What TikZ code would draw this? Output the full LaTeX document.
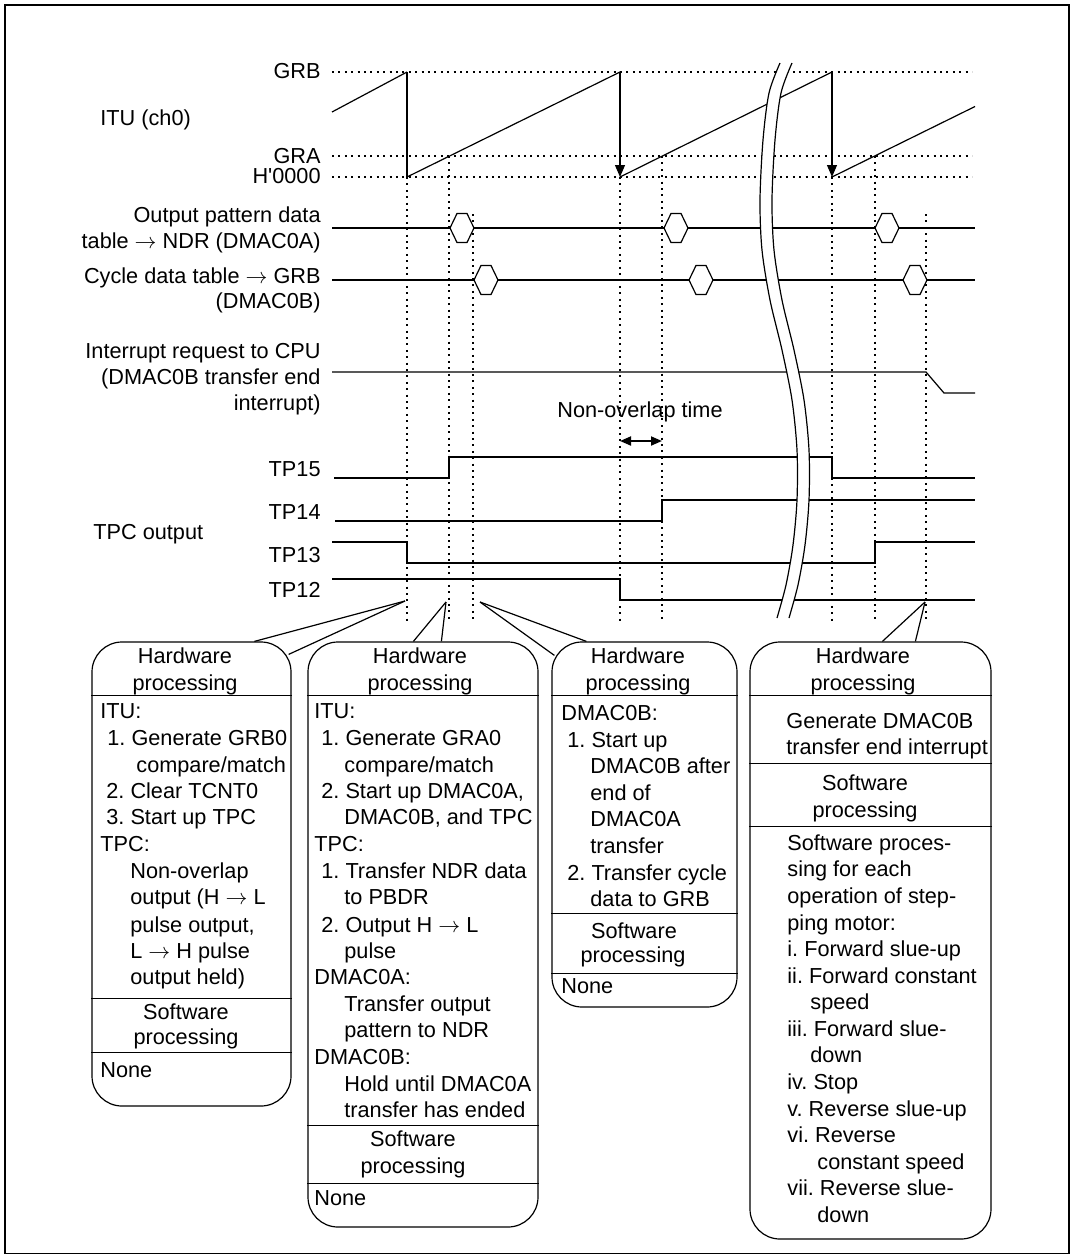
\documentclass[tikz,border=0pt]{standalone}
\usepackage{fontspec}
\setmainfont{Liberation Sans}
\usetikzlibrary{arrows.meta,calc}
\begin{document}
\begin{tikzpicture}[x=0.5pt,y=-0.5pt,
  txt/.style={inner sep=0pt, font=\fontsize{10.85}{13.35}\selectfont\frenchspacing},
  lbl/.style={txt, anchor=base east},
  lt/.style={txt, anchor=base west},
  ct/.style={txt, anchor=base},
  sig/.style={line width=0.6pt},
  dotl/.style={line width=0.55pt, dash pattern=on 1pt off 2.2pt},
  pbox/.style={draw, line width=0.6pt, rounded corners=15pt, inner sep=0pt},
  tipa/.style={-{Triangle[width=5pt,length=6pt]}},
  hexa/.style={sig, fill=white}
]
\useasboundingbox (0,0) rectangle (1074,1254);
\draw[line width=1pt] (5,5) rectangle (1069,1254);

% ---------- dotted guides ----------
\draw[dotl] (332,72) -- (972,72);
\draw[dotl] (332,156) -- (972,156);
\draw[dotl] (332,177) -- (972,177);
\foreach \x in {407,620,832} \draw[dotl] (\x,177) -- (\x,623);
\foreach \x in {449,662,875} \draw[dotl] (\x,156) -- (\x,623);
\foreach \x in {473,926} \draw[dotl] (\x,214) -- (\x,623);

% ---------- ITU sawtooth ----------
\draw[sig] (332,112) -- (407,72);
\draw[line width=1.1pt] (407,72) -- (407,177);
\draw[sig] (407,177) -- (620,72);
\draw[sig,tipa] (620,72) -- (620,177);
\draw[sig] (620,177) -- (832,72);
\draw[sig,tipa] (832,72) -- (832,177);
\draw[sig] (832,177) -- (975,106.5);

% ---------- DMAC rows ----------
\draw[sig] (332,228) -- (975,228);
\foreach \x in {450,664,875}
  \draw[hexa] (\x,228) -- ++(7,-14.5) -- ++(10,0) -- ++(7,14.5) -- ++(-7,14.5) -- ++(-10,0) -- cycle;
\draw[sig] (332,280) -- (975,280);
\foreach \x in {474,689,903}
  \draw[hexa] (\x,280) -- ++(7,-14.5) -- ++(10,0) -- ++(7,14.5) -- ++(-7,14.5) -- ++(-10,0) -- cycle;

% ---------- interrupt ----------
\draw[sig] (332,372) -- (926,372) -- (944,393) -- (975,393);

% ---------- TPC outputs ----------
\draw[sig] (334,478) -- (449,478) -- (449,457) -- (832,457) -- (832,478) -- (975,478);
\draw[sig] (335,521) -- (662,521) -- (662,500) -- (975,500);
\draw[sig] (332,542) -- (407,542) -- (407,563) -- (875,563) -- (875,542) -- (975,542);
\draw[sig] (332,579) -- (620,579) -- (620,600) -- (975,600);

% non-overlap dimension
\coordinate (no1) at (620,441);
\coordinate (no2) at (662,441);
\draw[line width=0.9pt,{Triangle[width=4.5pt,length=5.5pt]}-{Triangle[width=4.5pt,length=5.5pt]}] (no1) -- (no2);
\node[ct] (lnon) at (640,417) {Non-overlap time};

% ---------- break ----------
\fill[white] plot[smooth] coordinates {(780,63) (769,93) (763,140) (760,200) (762,250) (770,300) (782,350) (792,400) (797,450) (797,500) (793,545) (786,585) (777,618)}
  -- plot[smooth] coordinates {(789,618) (798,585) (805,545) (809,500) (809,450) (804,400) (794,350) (782,300) (774,250) (772,200) (775,140) (781,93) (792,63)} -- cycle;
\draw[sig] plot[smooth] coordinates {(780,63) (769,93) (763,140) (760,200) (762,250) (770,300) (782,350) (792,400) (797,450) (797,500) (793,545) (786,585) (777,618)};
\draw[sig] plot[smooth] coordinates {(792,63) (781,93) (775,140) (772,200) (774,250) (782,300) (794,350) (804,400) (809,450) (809,500) (805,545) (798,585) (789,618)};

% ---------- left labels ----------
\node[lbl] (lgrb) at (321,78) {GRB};
\node[lt] (litu) at (100,125) {ITU (ch0)};
\node[lbl] (lgra) at (321,163) {GRA};
\node[lbl] (lh) at (321,183) {H\textquotesingle 0000};
\node[lbl] (lopd1) at (321,222) {Output pattern data};
\node[lbl] (lopd2) at (321,248) {table $\rightarrow$ NDR (DMAC0A)};
\node[lbl] (lcyc1) at (321,283) {Cycle data table $\rightarrow$ GRB};
\node[lbl] (lcyc2) at (321,308) {(DMAC0B)};
\node[lbl] (lint1) at (321,358) {Interrupt request to CPU};
\node[lbl] (lint2) at (321,384) {(DMAC0B transfer end};
\node[lbl] (lint3) at (321,410) {interrupt)};
\node[lbl] (ltp15) at (321,476) {TP15};
\node[lbl] (ltp14) at (321,519) {TP14};
\node[lt] (ltpc) at (93,539) {TPC output};
\node[lbl] (ltp13) at (321,562) {TP13};
\node[lbl] (ltp12) at (321,597) {TP12};

% ---------- boxes ----------
\node[pbox, minimum width=99.5pt, minimum height=232pt] (box1) at (191.5,874) {};
\node[pbox, minimum width=115pt, minimum height=292.5pt] (box2) at (423,934.5) {};
\node[pbox, minimum width=92.5pt, minimum height=182.5pt] (box3) at (644.5,824.5) {};
\node[pbox, minimum width=120.5pt, minimum height=298.5pt] (box4) at (870.5,940.5) {};

\foreach \b/\d in {box1/54,box1/357,box1/411,box2/54,box2/484,box2/542,box3/54,box3/272,box3/332,box4/54,box4/122,box4/185}
  \draw[sig] ($(\b.north west)+(0,\d)$) -- ($(\b.north east)+(0,\d)$);

% callout tips
\coordinate (t1) at (405,601);
\coordinate (t2) at (446,602);
\coordinate (t3) at (480,602);
\coordinate (t4) at (925,602);
\draw[sig] (t1) -- ($(box1.north west)+(163,0)$);
\draw[sig] (t1) -- ($(box1.north east)+(-3,13)$);
\draw[sig] (t2) -- ($(box2.north west)+(106,0)$);
\draw[sig] (t2) -- ($(box2.north west)+(134,0)$);
\draw[sig] (t3) -- ($(box3.north west)+(35,0)$);
\draw[sig] (t3) -- ($(box3.north west)+(3,14)$);
\draw[sig] (t4) -- ($(box4.north west)+(133,0)$);
\draw[sig] (t4) -- ($(box4.north west)+(166,0)$);

% ---------- box texts: headers ----------
\foreach \x/\y/\t [count=\i] in {185/663/Hardware,185/690/processing,186/1019/Software,186/1044/processing,
  420/663/Hardware,420/690/processing,413/1146/Software,413/1173/processing,
  638/663/Hardware,638/690/processing,634/938/Software,633/962/processing,
  863/663/Hardware,863/690/processing,865/790/Software,865/817/processing}
  \node[ct] (hd\i) at (\x,\y) {\t};

% box 1 body
\foreach \x/\y/\t [count=\i] in {100/718/{ITU:},107/745/{1. Generate GRB0},136/772/{compare/match},
  106/798/{2. Clear TCNT0},106/824/{3. Start up TPC},100/851/{TPC:},130/878/{Non-overlap},
  130/904/{output (H $\rightarrow$ L},130/932/{pulse output,},130/958/{L $\rightarrow$ H pulse},
  130/984/{output held)},100/1077/{None}}
  \node[lt] (ba\i) at (\x,\y) {\t};

% box 2 body
\foreach \x/\y/\t [count=\i] in {314/718/{ITU:},321/745/{1. Generate GRA0},344/772/{compare/match},
  321/798/{2. Start up DMAC0A,},344/824/{DMAC0B, and TPC},314/851/{TPC:},
  321/878/{1. Transfer NDR data},344/904/{to PBDR},321/932/{2. Output H $\rightarrow$ L},
  344/958/{pulse},314/984/{DMAC0A:},344/1011/{Transfer output},344/1037/{pattern to NDR},
  314/1064/{DMAC0B:},344/1091/{Hold until DMAC0A},344/1117/{transfer has ended},314/1205/{None}}
  \node[lt] (bb\i) at (\x,\y) {\t};

% box 3 body
\foreach \x/\y/\t [count=\i] in {561/720/{DMAC0B:},567/747/{1. Start up},590/773/{DMAC0B after},
  590/800/{end of},590/826/{DMAC0A},590/853/{transfer},567/880/{2. Transfer cycle},
  590/906/{data to GRB},561/993/{None}}
  \node[lt] (bc\i) at (\x,\y) {\t};

% box 4 body
\foreach \x/\y/\t [count=\i] in {786/728/{Generate DMAC0B},786/754/{transfer end interrupt},
  787/850/{Software proces-},787/876/{sing for each},787/903/{operation of step-},
  787/930/{ping motor:},787/956/{i. Forward slue-up},787/983/{ii. Forward constant},
  810/1009/{speed},787/1036/{iii. Forward slue-},810/1062/{down},787/1089/{iv. Stop},
  787/1116/{v. Reverse slue-up},787/1142/{vi. Reverse},817/1169/{constant speed},
  787/1195/{vii. Reverse slue-},817/1222/{down}}
  \node[lt] (bd\i) at (\x,\y) {\t};
\end{tikzpicture}
\end{document}
